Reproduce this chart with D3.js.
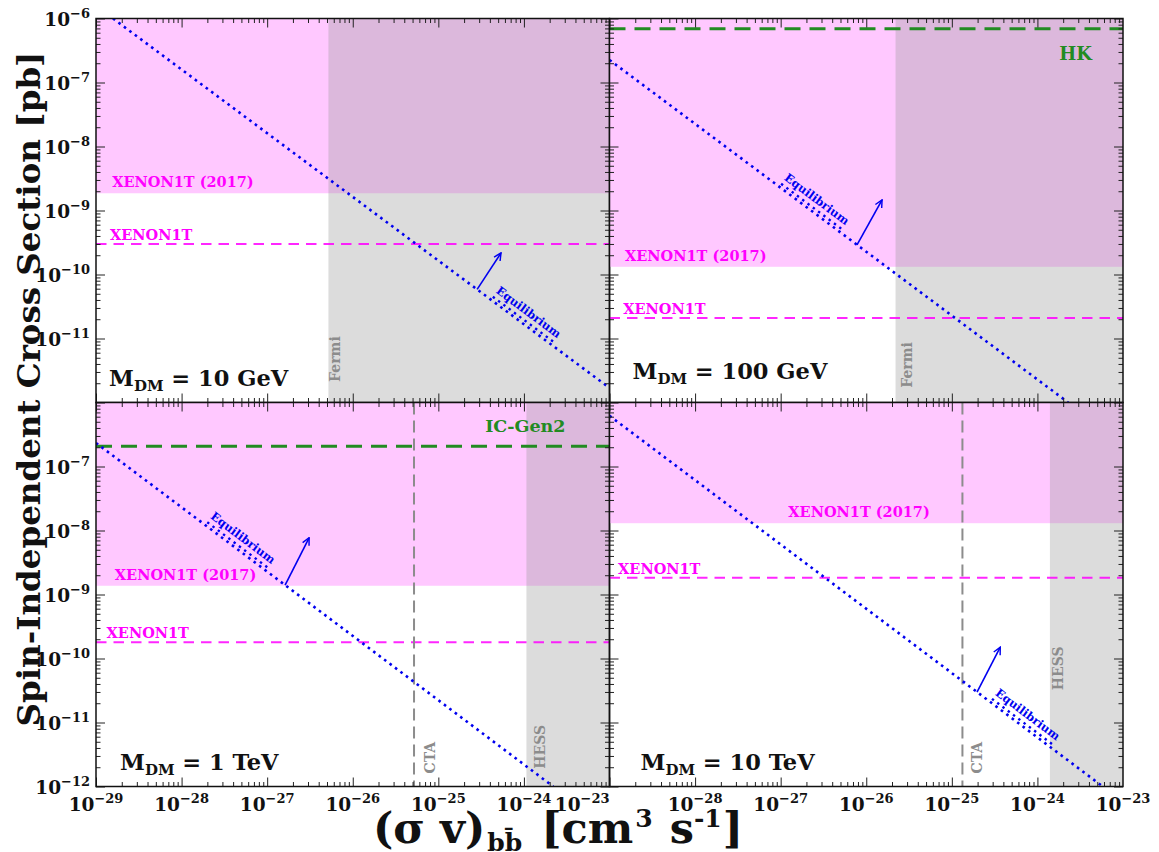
<!DOCTYPE html>
<html>
<head>
<meta charset="utf-8">
<script src="https://cdn.jsdelivr.net/npm/d3@7"></script>
<style>
body { margin: 0; background: #fff; }
text { font-family: "DejaVu Serif", serif; font-weight: bold; }
</style>
</head>
<body>
<script>
// panel data (top-left, top-right, bottom-left, bottom-right)
const masses = ["10 GeV", "100 GeV", "1 TeV", "10 TeV"];
const xenon2017 = [1.86e-9, 1.32e-10, 1.37e-9, 1.3e-8];
const xenon1t = [3.0e-10, 2.1e-11, 1.79e-10, 1.82e-9];
const gammaLimit = [5.2e-27, 2.2e-26, 1.07e-24, 1.4e-24];
const gammaName = ["Fermi", "Fermi", "HESS", "HESS"];
const ctaLimit = [null, null, 5.2e-26, 1.33e-25];
const nuLimit = [null, 6.9e-7, 2.08e-7, null];
const nuName = [null, "HK", "IC-Gen2", null];
// equilibrium line end points [sigma v, sigma_SI]
const eqStart = [[1.58e-29, 1e-6], [1e-29, 2.25e-7], [1e-29, 2.33e-7], [1e-29, 6.2e-7]];
const eqEnd = [[1e-23, 1.69e-12], [2.29e-24, 1e-12], [2.2e-24, 1e-12], [5.8e-24, 1e-12]];
const arrowFrom = [2.84e-25, 7.8e-27, 1.62e-27, 1.97e-25];
const arrowTo = [[5.4e-25, 2.17e-10], [1.53e-26, 1.46e-9], [3.09e-27, 7.7e-9], [3.68e-25, 1.5e-10]];
const eqLabelAt = [9.3e-25, 2.17e-27, 4.27e-28, 6.3e-25];

const xDomain = [1e-29, 1e-23];
const yDomain = [1e-12, 1e-6];
const xTickExp = [-29, -28, -27, -26, -25, -24, -23];
const yTickExp = [-6, -7, -8, -9, -10, -11, -12];

// layout
const W = 1159, H = 852;
const L = 96, R = 1123, T = 18.5, B = 786.5;
const pw = (R - L) / 2, ph = (B - T) / 2;
const massPos = [[13, ph - 17], [23, ph - 24], [24, ph - 17], [31, ph - 17]];
const x2017Pos = [1.55e-29, 1.52e-29, 1.66e-29, 1.23e-27];
const x1tPos = [1.46e-29, 1.45e-29, 1.33e-29, 1.26e-29];
const gammaLab = [[12, 2.1e-12], [16, 1.7e-12], [19, 1.9e-12], [13, 3.2e-11]];
const ctaLab = [null, null, [21, 1.6e-12], [20, 1.6e-12]];
const nuLab = [null, [31, 41.5], [44, 29.5], null];

const pink = "#ffc8ff", magenta = "#f0f", blue = "#0000f0", green = "#228b22", grey = "#8c8c8c";

const svg = d3.select("body").append("svg")
    .attr("width", W).attr("height", H);

const defs = svg.append("defs");
defs.append("marker")
    .attr("id", "head")
    .attr("viewBox", "0 0 10 10")
    .attr("refX", 9).attr("refY", 5)
    .attr("markerWidth", 9).attr("markerHeight", 9)
    .attr("markerUnits", "userSpaceOnUse")
    .attr("orient", "auto")
    .append("path")
    .attr("d", "M1,1 L9,5 L1,9")
    .attr("fill", "none").attr("stroke", blue).attr("stroke-width", 1.6);

const isMajor = v => Math.abs(Math.log10(v) - Math.round(Math.log10(v))) < 1e-6;

function eqY(i, xv) {
  const [xa, ya] = eqStart[i], [xb, yb] = eqEnd[i];
  const t = (Math.log10(xv) - Math.log10(xa)) / (Math.log10(xb) - Math.log10(xa));
  return Math.pow(10, Math.log10(ya) + t * (Math.log10(yb) - Math.log10(ya)));
}

function sup(sel, exp, big, small, dy) {
  sel.append("tspan").text("10").attr("font-size", big);
  sel.append("tspan").text("\u2212" + Math.abs(exp)).attr("font-size", small).attr("dy", dy);
}

masses.forEach((m, i) => {
  const col = i % 2, row = Math.floor(i / 2);
  const x0 = L + col * pw, y0 = T + row * ph;
  const x = d3.scaleLog().domain(xDomain).range([0, pw]);
  const y = d3.scaleLog().domain(yDomain).range([ph, 0]);
  const g = svg.append("g").attr("transform", `translate(${x0},${y0})`);

  defs.append("clipPath").attr("id", "clip" + i)
    .append("rect").attr("width", pw).attr("height", ph);
  const p = g.append("g").attr("clip-path", `url(#clip${i})`);

  // XENON1T (2017) excluded region
  p.append("rect")
    .attr("x", 0).attr("y", y(yDomain[1]))
    .attr("width", pw).attr("height", y(xenon2017[i]) - y(yDomain[1]))
    .attr("fill", pink);
  // gamma-ray excluded region
  p.append("rect")
    .attr("x", x(gammaLimit[i])).attr("y", 0)
    .attr("width", pw - x(gammaLimit[i])).attr("height", ph)
    .attr("fill", "rgb(154,154,154)").attr("fill-opacity", 0.345);

  // XENON1T projection
  p.append("line")
    .attr("x1", 0).attr("x2", pw)
    .attr("y1", y(xenon1t[i])).attr("y2", y(xenon1t[i]))
    .attr("stroke", magenta).attr("stroke-width", 2).attr("stroke-opacity", 0.85)
    .attr("stroke-dasharray", "10.5,7");

  if (ctaLimit[i]) {
    p.append("line")
      .attr("x1", x(ctaLimit[i])).attr("x2", x(ctaLimit[i]))
      .attr("y1", 0).attr("y2", ph)
      .attr("stroke", grey).attr("stroke-width", 2)
      .attr("stroke-dasharray", "12,6");
    p.append("text")
      .attr("transform", `translate(${x(ctaLimit[i]) + ctaLab[i][0]},${y(ctaLab[i][1])}) rotate(-90)`)
      .attr("fill", grey).attr("font-size", 14)
      .text("CTA");
  }

  if (nuLimit[i]) {
    p.append("line")
      .attr("x1", 0).attr("x2", pw)
      .attr("y1", y(nuLimit[i])).attr("y2", y(nuLimit[i]))
      .attr("stroke", green).attr("stroke-width", 3)
      .attr("stroke-dasharray", "16,9");
    p.append("text")
      .attr("x", pw - nuLab[i][0]).attr("y", nuLab[i][1])
      .attr("text-anchor", "end")
      .attr("fill", green).attr("font-size", i === 1 ? 18 : 17.5)
      .text(nuName[i]);
  }

  // equilibrium line
  const line = d3.line().x(d => x(d[0])).y(d => y(d[1]));
  p.append("path")
    .attr("d", line([eqStart[i], eqEnd[i]]))
    .attr("fill", "none").attr("stroke", blue)
    .attr("stroke-width", 2.6).attr("stroke-dasharray", "2.6,4.2");

  const ang = Math.atan2(y(eqEnd[i][1]) - y(eqStart[i][1]), x(eqEnd[i][0]) - x(eqStart[i][0]));
  const deg = ang * 180 / Math.PI;
  const nx = Math.sin(ang), ny = -Math.cos(ang); // normal pointing up-right
  const cx = x(eqLabelAt[i]), cy = y(eqY(i, eqLabelAt[i]));
  // second dotted trace under the label
  const half = 38;
  p.append("line")
    .attr("x1", cx - Math.cos(ang) * half + nx * 3.5).attr("y1", cy - Math.sin(ang) * half + ny * 3.5)
    .attr("x2", cx + Math.cos(ang) * half + nx * 3.5).attr("y2", cy + Math.sin(ang) * half + ny * 3.5)
    .attr("stroke", blue).attr("stroke-width", 2.4).attr("stroke-dasharray", "2.4,4.2");
  p.append("text")
    .attr("transform", `translate(${cx + nx * 11.5},${cy + ny * 11.5}) rotate(${deg})`)
    .attr("text-anchor", "middle").attr("dominant-baseline", "middle")
    .attr("fill", blue).attr("font-size", 11.5)
    .text("Equilibrium");

  p.append("line")
    .attr("x1", x(arrowFrom[i])).attr("y1", y(eqY(i, arrowFrom[i])))
    .attr("x2", x(arrowTo[i][0])).attr("y2", y(arrowTo[i][1]))
    .attr("stroke", blue).attr("stroke-width", 1.6)
    .attr("marker-end", "url(#head)");

  // labels
  p.append("text")
    .attr("x", x(x2017Pos[i])).attr("y", y(xenon2017[i]) - 6)
    .attr("fill", magenta).attr("font-size", 14.5)
    .text("XENON1T (2017)");
  p.append("text")
    .attr("x", x(x1tPos[i])).attr("y", y(xenon1t[i]) - 4)
    .attr("fill", magenta).attr("font-size", 14.5)
    .text("XENON1T");
  p.append("text")
    .attr("transform", `translate(${x(gammaLimit[i]) + gammaLab[i][0]},${y(gammaLab[i][1])}) rotate(-90)`)
    .attr("fill", grey).attr("font-size", 14)
    .text(gammaName[i]);

  const mt = g.append("text")
    .attr("x", massPos[i][0]).attr("y", massPos[i][1])
    .attr("fill", "#111").attr("font-size", 22.5);
  mt.append("tspan").text("M");
  mt.append("tspan").text("DM").attr("font-size", 15).attr("dy", 5);
  mt.append("tspan").text(" = " + m).attr("dy", -5);

  // ticks, inward on all four sides
  const all = x.ticks(), major = all.filter(isMajor), minor = all.filter(v => !isMajor(v));
  const yall = y.ticks(), ymajor = yall.filter(isMajor), yminor = yall.filter(v => !isMajor(v));
  const axes = [
    [d3.axisBottom(x), major, minor, `translate(0,0)`],
    [d3.axisTop(x), major, minor, `translate(0,${ph})`],
    [d3.axisRight(y), ymajor, yminor, `translate(0,0)`],
    [d3.axisLeft(y), ymajor, yminor, `translate(${pw},0)`]
  ];
  axes.forEach(([ax, mj, mn, tr]) => {
    const a1 = g.append("g").attr("transform", tr)
      .call(ax.tickValues(mj).tickSize(9).tickFormat(""));
    const a2 = g.append("g").attr("transform", tr)
      .call(ax.tickValues(mn).tickSize(4.5).tickFormat(""));
    [a1, a2].forEach(a => {
      a.select(".domain").remove();
      a.selectAll("line").attr("stroke", "#222").attr("stroke-width", 1);
    });
  });

  g.append("rect")
    .attr("width", pw).attr("height", ph)
    .attr("fill", "none").attr("stroke", "#111").attr("stroke-width", 1.5);

  // tick labels
  if (col === 0) {
    yTickExp.filter(e => row === 0 ? e > -12 : e < -6).forEach(e => {
      const t = g.append("text")
        .attr("x", -6).attr("y", y(Math.pow(10, e)) + 7)
        .attr("text-anchor", "end").attr("fill", "#111");
      sup(t, e, 18.5, 13, -8);
    });
  }
  if (row === 1) {
    xTickExp.filter(e => col === 0 || e > -29).forEach(e => {
      const last = col === 0 && e === -23;
      const t = g.append("text")
        .attr("x", x(Math.pow(10, e))).attr("y", ph + 24)
        .attr("text-anchor", last ? "end" : "middle").attr("fill", "#111");
      sup(t, e, 18.5, 13, -8);
    });
  }
});

// axis titles
svg.append("text")
  .attr("transform", `translate(40,389) rotate(-90)`)
  .attr("text-anchor", "middle").attr("font-size", 32.5).attr("fill", "#111")
  .text("Spin-Independent Cross Section [pb]");

const xt = svg.append("text")
  .attr("x", 558).attr("y", 843)
  .attr("text-anchor", "middle").attr("font-size", 43).attr("fill", "#111");
xt.append("tspan").text("(\u03c3 v)");
xt.append("tspan").text("b\u0062\u0304").attr("font-size", 25).attr("dy", 8).attr("dx", 2);
xt.append("tspan").text(" [cm").attr("dy", -8).attr("dx", 4);
xt.append("tspan").text("3").attr("font-size", 25).attr("dy", -16).attr("dx", 2);
xt.append("tspan").text(" s").attr("dy", 16).attr("dx", 2);
xt.append("tspan").text("-1").attr("font-size", 25).attr("dy", -16);
xt.append("tspan").text("]").attr("dy", 16).attr("dx", 1);
</script>
</body>
</html>
